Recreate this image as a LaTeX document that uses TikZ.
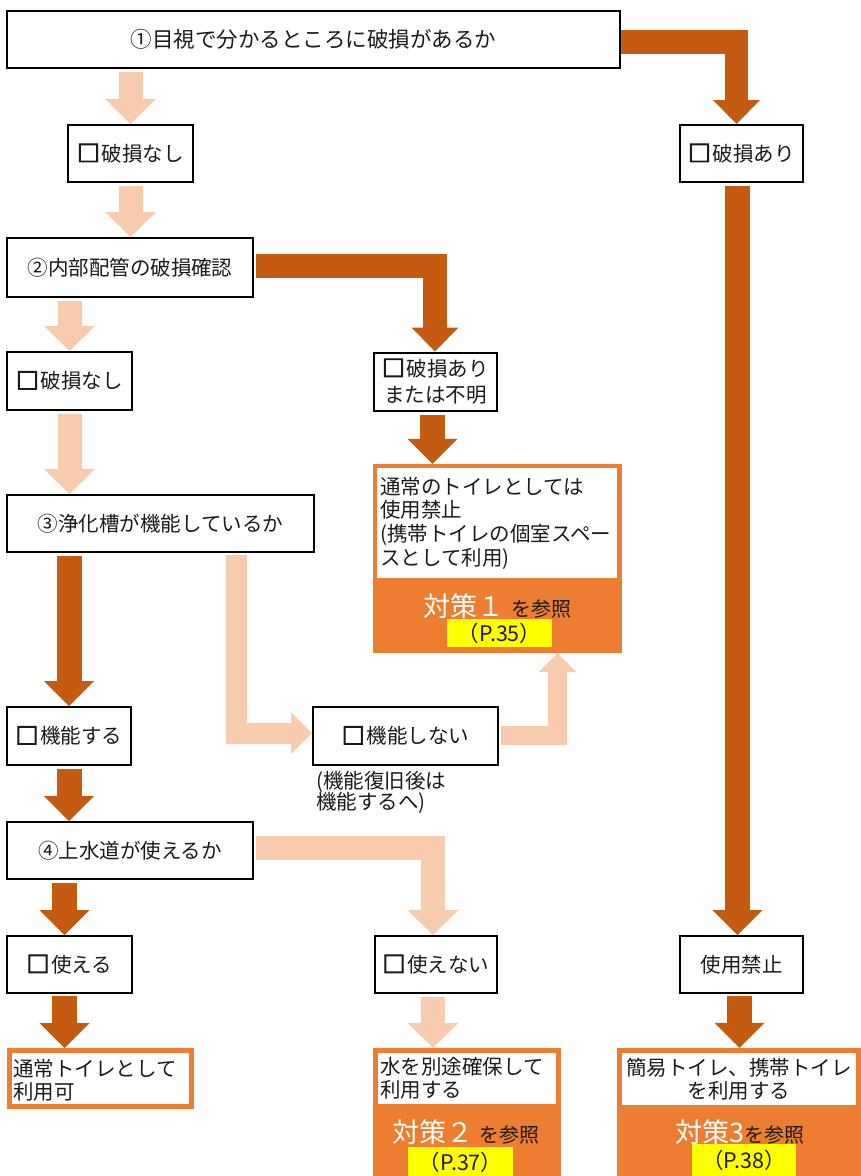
\documentclass[tikz,border=0pt]{standalone}
\usepackage{fontspec}
\setmainfont{Noto Sans CJK JP}
\newfontfamily\boxfont[FakeBold=5,Scale=1.1]{Noto Sans CJK JP}
\usetikzlibrary{arrows.meta,calc}
\definecolor{darkor}{HTML}{C55A11}
\definecolor{lightor}{HTML}{F8CBAD}
\definecolor{boxor}{HTML}{ED7D31}
\definecolor{txt}{HTML}{1A1A1A}
\definecolor{hl}{HTML}{FFFF00}
\newcommand\chkbox{{\boxfont □}\hspace{2pt}}
\begin{document}
\begin{tikzpicture}[x=1pt,y=-1pt,
  txtf/.style={font=\fontsize{20.5}{24}\selectfont, text=txt},
  box/.style={draw=black, line width=2pt, fill=white, inner sep=0pt, txtf, align=center},
  blk/.style n args={4}{draw=#1, line width=#2, line join=miter,
    -{Triangle[width=#3, length=#4, line width=0pt, fill=#1]}},
  lt/.style={blk={lightor}{24pt}{51pt}{25pt}},
  dk/.style={blk={darkor}{25pt}{50pt}{25pt}},
  dke/.style={blk={darkor}{23.5pt}{47pt}{24pt}},
  lte/.style={blk={lightor}{21pt}{42pt}{21pt}},
  lts/.style={blk={lightor}{19pt}{38pt}{19pt}},
  panel/.style={fill=boxor, inner sep=0pt},
  inner/.style={fill=white, inner sep=0pt, anchor=north west},
  hlbox/.style={fill=hl, inner sep=0pt, font=\fontsize{21.5}{24}\selectfont, text=txt},
  ttl/.style={inner sep=0pt, text=white, font=\fontsize{27}{30}\selectfont}
]
\useasboundingbox (0,0) rectangle (861,1176);

% ---------- boxes ----------
\node[box, minimum width=613pt, minimum height=57pt, font=\fontsize{21.5}{24}\selectfont] (b1) at (313.5,39.5) {①目視で分かるところに破損があるか};
\node[box, minimum width=125pt, minimum height=57pt] (n1) at (130.5,153.5) {\chkbox 破損なし};
\node[box, minimum width=123pt, minimum height=57pt] (p1) at (741.5,153.5) {\chkbox 破損あり};
\node[box, minimum width=246pt, minimum height=59pt] (b2) at (130,267.5) {②内部配管の破損確認};
\node[box, minimum width=125pt, minimum height=58pt] (n2) at (69.5,381) {\chkbox 破損なし};
\node[box, minimum width=123pt, minimum height=58pt, font=\fontsize{20.5}{26}\selectfont] (p2) at (435.5,381.5) {\chkbox 破損あり\\または不明};

% countermeasure 1
\node[panel, minimum width=249pt, minimum height=189pt] (t1) at (497.5,558.5) {};
\node[inner, minimum width=240pt, minimum height=110pt] (t1w) at (377,468) {};
\node[anchor=west, align=left, inner sep=0pt, font=\fontsize{20.5}{23.7}\selectfont, text=txt] (t1t) at (380,523) {通常のトイレとしては\\使用禁止\\(携帯トイレの個室スペー\\スとして利用)};
\node[ttl] (t1k) at (497.5,606) {対策１ {\fontsize{20}{24}\selectfont\color{txt}を参照}};
\node[hlbox, minimum width=105pt, minimum height=28pt] (t1p) at (499.5,633) {（P.35）};

\node[box, minimum width=307pt, minimum height=57pt] (b3) at (160.5,523.5) {③浄化槽が機能しているか};
\node[box, minimum width=124pt, minimum height=58pt] (f1) at (69,736) {\chkbox 機能する};
\node[box, minimum width=185pt, minimum height=58pt] (f2) at (405.5,736) {\chkbox 機能しない};
\node[anchor=north west, align=left, inner sep=0pt, font=\fontsize{20.5}{21.5}\selectfont, text=txt] (nt) at (316,771) {(機能復旧後は\\機能するへ)};

\node[box, minimum width=246pt, minimum height=57pt] (b4) at (130,850.5) {④上水道が使えるか};
\node[box, minimum width=125pt, minimum height=57pt] (u1) at (69.5,964.5) {\chkbox 使える};
\node[box, minimum width=122pt, minimum height=57pt] (u2) at (436,964.5) {\chkbox 使えない};
\node[box, minimum width=123pt, minimum height=57pt] (ban) at (741.5,964.5) {使用禁止};

% normal use
\node[draw=boxor, line width=5pt, fill=white, inner sep=0pt, minimum width=182pt, minimum height=56pt] (ok) at (100.5,1078.5) {};
\node[anchor=west, align=left, inner sep=0pt, font=\fontsize{20.5}{23}\selectfont, text=txt] (okt) at (13,1080.5) {通常トイレとして\\利用可};

% countermeasure 2
\node[panel, minimum width=188pt, minimum height=130pt] (t2) at (467,1113) {};
\node[inner, minimum width=178pt, minimum height=51pt] (t2w) at (378,1053) {};
\node[anchor=west, align=left, inner sep=0pt, font=\fontsize{20.5}{23}\selectfont, text=txt] (t2t) at (380,1078.5) {水を別途確保して\\利用する};
\node[ttl] (t2k) at (466,1132) {対策２ {\fontsize{20}{24}\selectfont\color{txt}を参照}};
\node[hlbox, minimum width=105pt, minimum height=30pt] (t2p) at (460.5,1162) {（P.37）};

% countermeasure 3
\node[panel, minimum width=246pt, minimum height=130pt] (t3) at (740,1113) {};
\node[inner, minimum width=234pt, minimum height=52pt] (t3w) at (622,1053) {};
\node[align=center, inner sep=0pt, font=\fontsize{20.5}{23}\selectfont, text=txt] (t3t) at (739,1079) {簡易トイレ、携帯トイレ\\を利用する};
\node[ttl] (t3k) at (740,1132) {対策3{\fontsize{20}{24}\selectfont\color{txt}を参照}};
\node[hlbox, minimum width=104pt, minimum height=32pt] (t3p) at (744,1160) {（P.38）};

% ---------- arrows ----------
\draw[lt] ($(b1.south -| n1.north)+(0,3)$) -- (n1.north);
\draw[lt] ($(n1.south)+(0,3)$) -- (n1.south |- b2.north);
\draw[lt] ($(b2.south -| n2.north)+(0,3)$) -- (n2.north);
\draw[lt] ($(n2.south)+(0,3)$) -- (n2.south |- b3.north);
\draw[dk] ($(b3.south -| f1.north)+(0,3)$) -- (f1.north);
\draw[dk] ($(f1.south)+(0,3)$) -- (f1.south |- b4.north);
\draw[dk] ($(b4.south -| u1.north)+(-5,3)$) -- ($(u1.north)+(-5,0)$);
\draw[dk] ($(u1.south)+(-5,2)$) -- ($(u1.south |- ok.north)+(-5,0)$);
\draw[lt] ($(u2.south)+(-3,3)$) -- ($(u2.south |- t2.north)+(-3,0)$);
\draw[dk] ($(p2.south)+(-3,3)$) -- ($(p2.south |- t1.north)+(-3,0)$);
\draw[dk] ($(ban.south)+(-2,2)$) -- ($(ban.south |- t3.north)+(-2,0)$);
\draw[dk] ($(p1.south)+(-4,3)$) -- ($(p1.south |- ban.north)+(-4,0)$);
% elbows
\draw[dke] ($(b1.east)+(0,2.5)$) -| ($(p1.north)+(-5,0)$);
\draw[dke] ($(b2.east)+(2,-1.5)$) -| ($(p2.north)+(-0.5,0)$);
\draw[lte] ($(b3.south)+(75.5,2)$) |- ($(f2.west)+(0,-3)$);
\draw[lts] ($(f2.east)+(2,-1)$) -| ($(t1.south)+(60,0)$);
\draw[lt] ($(b4.east)+(2,-3)$) -| ($(u2.north)+(-3,0)$);
\end{tikzpicture}
\end{document}
